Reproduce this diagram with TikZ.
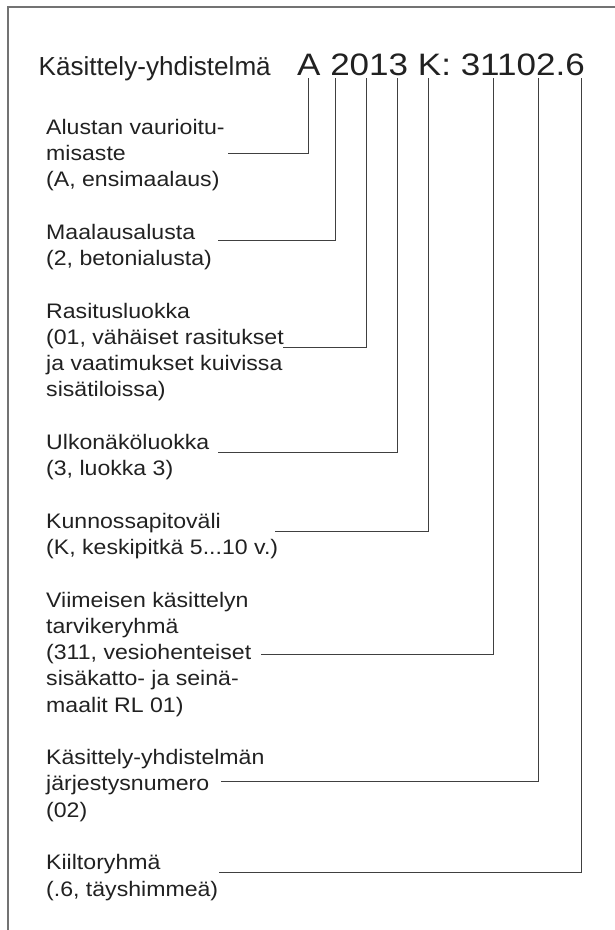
\documentclass[tikz,border=0pt]{standalone}
\usepackage{fontspec}
\setmainfont{Liberation Sans}
\newfontfamily\bodyfont[FakeStretch=1.1]{Liberation Sans}
\newfontfamily\codefont[FakeStretch=1.13]{Liberation Sans}
\definecolor{txt}{rgb}{0.13,0.13,0.13}
\definecolor{framec}{rgb}{0.45,0.45,0.45}
\definecolor{linec}{rgb}{0.25,0.25,0.25}
\tikzset{
  lbl/.style={anchor=north west, inner sep=0pt, align=left, text=txt,
    font=\bodyfont\fontsize{21}{26.27}\selectfont},
  conn/.style={draw=linec, line width=0.9pt},
  framel/.style={draw=framec, line width=2pt}
}
\begin{document}
\begin{tikzpicture}[x=1pt,y=-1pt]
\useasboundingbox (0,0) rectangle (614,930);
\draw[framel] (8,931) -- (8,7) -- (615,7);

\node[anchor=base west, inner sep=0pt, text=txt, font=\fontsize{26.1}{30}\selectfont] (title) at (38.5,75.7) {Käsittely-yhdistelmä};
\node[anchor=base west, inner sep=0pt, text=txt, font=\codefont\fontsize{31}{36}\selectfont] (code) at (297,75.7) {A 2013 K: 31102.6};

\node[lbl] (l1) at (46,115.6) {\strut Alustan vaurioitu-\\misaste\\(A, ensimaalaus)};
\node[lbl] (l2) at (46,220.7) {\strut Maalausalusta\\(2, betonialusta)};
\node[lbl] (l3) at (46,299.5) {\strut Rasitusluokka\\(01, vähäiset rasitukset\\ja vaatimukset kuivissa\\sisätiloissa)};
\node[lbl] (l4) at (46,430.8) {\strut Ulkonäköluokka\\(3, luokka 3)};
\node[lbl] (l5) at (46,509.7) {\strut Kunnossapitoväli\\(K, keskipitkä 5...10 v.)};
\node[lbl] (l6) at (46,588.5) {\strut Viimeisen käsittelyn\\tarvikeryhmä\\(311, vesiohenteiset\\sisäkatto- ja seinä-\\maalit RL 01)};
\node[lbl] (l7) at (46,746.1) {\strut Käsittely-yhdistelmän\\järjestysnumero\\(02)};
\node[lbl] (l8) at (46,851.2) {\strut Kiiltoryhmä\\(.6, täyshimmeä)};

\coordinate (tA) at (308.5,78);
\coordinate (t2) at (335,78);
\coordinate (t01) at (366,78);
\coordinate (t3) at (397,78);
\coordinate (tK) at (428,78);
\coordinate (t311) at (493,78);
\coordinate (t02) at (538,78);
\coordinate (t6) at (581,78);

\coordinate (eA) at (228,153);
\coordinate (e2) at (218,240);
\coordinate (e01) at (283,347);
\coordinate (e3) at (218,452.7);
\coordinate (eK) at (275,531);
\coordinate (e311) at (261,654);
\coordinate (e02) at (221,781);
\coordinate (e6) at (219,872);

\draw[conn] (tA) |- (eA);
\draw[conn] (t2) |- (e2);
\draw[conn] (t01) |- (e01);
\draw[conn] (t3) |- (e3);
\draw[conn] (tK) |- (eK);
\draw[conn] (t311) |- (e311);
\draw[conn] (t02) |- (e02);
\draw[conn] (t6) |- (e6);
\end{tikzpicture}
\end{document}
